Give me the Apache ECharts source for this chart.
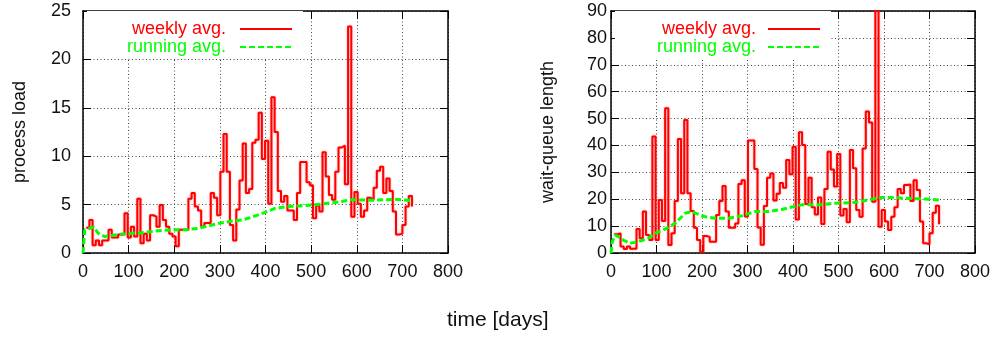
<!DOCTYPE html>
<html>
<head>
<meta charset="utf-8">
<title>process load and wait-queue length</title>
<script src="https://cdn.jsdelivr.net/npm/echarts@6/dist/echarts.min.js"></script>
<style>
  html, body { margin: 0; padding: 0; background: #fff; }
  #chart { width: 999px; height: 338px; }
</style>
</head>
<body>
<div id="chart"></div>
<script>
// Weekly averages: one value per week, first week starting on day 7.
const firstWeekDay = 7;
const weekLength = 7;

const weeklyLoad = [
  2.6, 3.4, 0.8, 1.3, 0.8, 1.3, 1.3, 2.4, 1.6, 1.6,
  1.9, 1.9, 4.1, 1.6, 2.7, 1.7, 5.6, 1.0, 2.0, 1.3,
  3.9, 3.75, 2.7, 4.96, 3.4, 2.7, 2.0, 1.7, 0.7, 2.4,
  2.4, 2.4, 5.6, 6.2, 4.8, 4.4, 2.7, 3.1, 3.1, 6.2,
  5.7, 3.9, 8.4, 12.3, 8.4, 2.9, 1.3, 4.5, 7.5, 11.3,
  6.2, 6.6, 11.4, 11.7, 14.5, 9.7, 11.6, 5.1, 16.1, 12.5,
  6.4, 5.3, 5.9, 4.4, 4.4, 3.4, 6.2, 9.4, 9.4, 7.3,
  7.0, 3.6, 4.9, 4.3, 10.4, 7.9, 6.0, 5.5, 8.4, 10.9,
  11.1, 7.1, 23.4, 3.75, 6.3, 5.1, 3.75, 4.4, 5.7, 5.5,
  6.75, 8.5, 8.9, 6.2, 7.7, 6.4, 4.3, 1.9, 2.0, 2.9,
  4.8, 5.9, 4.8
];

const weeklyQueue = [
  7.0, 7.3, 2.4, 1.5, 2.4, 1.6, 1.6, 8.9, 5.5, 15.4,
  6.7, 4.8, 43.3, 4.8, 19.7, 11.9, 53.8, 3.0, 7.3, 19.3,
  42.4, 22.2, 49.5, 22.2, 15.6, 9.4, 4.8, 0.5, 6.3, 6.0,
  4.2, 4.2, 14.1, 19.3, 24.9, 15.4, 9.4, 9.4, 11.0, 25.7,
  27.1, 13.6, 41.8, 41.8, 31.2, 9.5, 3.1, 17.5, 28.0, 29.6,
  19.5, 22.0, 26.0, 24.3, 34.6, 29.3, 39.5, 12.5, 44.9, 40.2,
  18.2, 28.0, 17.0, 14.3, 20.6, 10.8, 23.8, 37.7, 31.1, 24.7,
  36.8, 13.9, 16.4, 11.4, 38.3, 31.5, 16.0, 13.5, 38.9, 52.6,
  48.5, 19.1, 95.0, 9.8, 16.0, 11.7, 8.6, 13.5, 17.0, 23.8,
  22.2, 25.3, 25.5, 19.3, 27.1, 23.4, 11.7, 3.6, 3.2, 7.3,
  15.0, 17.6, 10.7
];

// Running averages, sampled at the listed days.
const runDaysLoad = [0, 4, 12, 23, 34, 48, 70, 92, 129, 165, 202, 224, 253, 275, 297, 326, 348, 370, 399, 421, 450, 487, 523, 560, 589, 633, 684, 724];
const runLoad     = [0, 2.4, 2.5, 2.7, 2.0, 1.7, 1.85, 2.0, 2.1, 2.3, 2.4, 2.4, 2.55, 2.8, 3.06, 3.3, 3.4, 3.7, 4.2, 4.6, 4.8, 4.9, 5.06, 5.27, 5.5, 5.45, 5.55, 5.4];

const runDaysQueue = [0, 3, 9, 16, 27, 42, 60, 82, 97, 119, 141, 163, 177, 196, 207, 229, 258, 287, 316, 345, 375, 393, 419, 456, 492, 529, 566, 588, 617, 653, 690, 724];
const runQueue     = [0, 4.2, 6.7, 6.1, 4.8, 3.6, 4.2, 5.5, 7.3, 8.9, 11.0, 14.8, 15.4, 14.1, 13.5, 12.9, 12.9, 13.8, 15.4, 15.4, 16.2, 16.9, 17.9, 17.9, 18.5, 18.7, 19.7, 20.6, 20.6, 20.3, 20.1, 19.7];

// Axis ranges and tick steps
const dayRange = [0, 800];
const dayStep = 100;
const loadRange = [0, 25];
const loadStep = 5;
const queueRange = [0, 90];
const queueStep = 10;

const seriesNames = ['weekly avg.', 'running avg.'];
const axisTitles = { x: 'time [days]', load: 'process load', queue: 'wait-queue length' };

const RED = '#ff0000';
const GREEN = '#00ff00';
const FONT = '"Liberation Sans", Arial, Helvetica, sans-serif';

const weekly = vals => vals.map((v, i) => [firstWeekDay + i * weekLength, v]);
const paired = (xs, ys) => xs.map((x, i) => [x, ys[i]]);

function xAxes(gridIndex) {
  const common = {
    gridIndex, type: 'value', min: dayRange[0], max: dayRange[1], interval: dayStep,
    axisLine: { show: true, onZero: false, lineStyle: { color: '#000', width: 1.5 } },
    axisTick: { show: true, inside: true, length: 8, lineStyle: { color: '#000', width: 1 } }
  };
  return [
    Object.assign({}, common, {
      position: 'bottom',
      axisLabel: { fontSize: 18, color: '#111', margin: 10, fontFamily: FONT },
      splitLine: { show: true, lineStyle: { color: '#444', width: 1, type: [1, 2.5] } }
    }),
    Object.assign({}, common, {
      position: 'top', axisLabel: { show: false }, splitLine: { show: false }
    })
  ];
}

function yAxes(gridIndex, range, step, title, labelMargin, nameGap) {
  const common = {
    gridIndex, type: 'value', min: range[0], max: range[1], interval: step,
    axisLine: { show: true, onZero: false, lineStyle: { color: '#000', width: 1.5 } },
    axisTick: { show: true, inside: true, length: 8, lineStyle: { color: '#000', width: 1 } }
  };
  return [
    Object.assign({}, common, {
      position: 'left',
      name: title, nameLocation: 'middle', nameGap, nameRotate: 90,
      nameTextStyle: { fontSize: 18, color: '#111', fontFamily: FONT },
      axisLabel: { fontSize: 18, color: '#111', margin: labelMargin, fontFamily: FONT },
      splitLine: { show: true, lineStyle: { color: '#444', width: 1, type: [1, 2.5] } }
    }),
    Object.assign({}, common, {
      position: 'right', axisLabel: { show: false }, splitLine: { show: false }
    })
  ];
}

function stepSeries(name, xi, yi, data) {
  return {
    name, type: 'line', xAxisIndex: xi, yAxisIndex: yi, step: 'end',
    symbol: 'none', clip: true, z: 3, data,
    lineStyle: { color: RED, width: 2, shadowColor: 'rgba(255,60,60,0.55)', shadowBlur: 2 },
    itemStyle: { color: RED }
  };
}

function runSeries(name, xi, yi, data) {
  return {
    name, type: 'line', xAxisIndex: xi, yAxisIndex: yi,
    symbol: 'none', clip: true, z: 4, data,
    lineStyle: { color: GREEN, width: 3, type: [6, 3] },
    itemStyle: { color: GREEN }
  };
}

function legendBox(rightPx, padding, textGap) {
  return {
    orient: 'vertical', align: 'right', right: rightPx, top: 11,
    itemWidth: 52, itemHeight: 14, itemGap: 0, padding,
    backgroundColor: '#fff', selectedMode: false,
    itemStyle: { opacity: 0 },
    textStyle: { fontSize: 18, lineHeight: 18, fontFamily: FONT, padding: [0, textGap, 0, 0] },
    data: [
      { name: seriesNames[0], textStyle: { color: RED } },
      { name: seriesNames[1], textStyle: { color: GREEN } }
    ]
  };
}

const chart = echarts.init(document.getElementById('chart'), null, { renderer: 'canvas' });
chart.setOption({
  animation: false,
  backgroundColor: '#fff',
  title: {
    text: axisTitles.x, left: 442, top: 305,
    textStyle: { fontSize: 21, fontWeight: 'normal', color: '#111', fontFamily: FONT }
  },
  legend: [
    legendBox(999 - 293 - 10, [9, 10, 3, 40], 9),
    legendBox(999 - 821 - 10, [9, 10, 3, 42], 7)
  ],
  grid: [
    { left: 83, top: 11, width: 365, height: 242 },
    { left: 611, top: 11, width: 364, height: 242 }
  ],
  xAxis: [].concat(xAxes(0), xAxes(1)),
  yAxis: [].concat(
    yAxes(0, loadRange, loadStep, axisTitles.load, 12, 54),
    yAxes(1, queueRange, queueStep, axisTitles.queue, 4, 54)
  ),
  series: [
    stepSeries(seriesNames[0], 0, 0, weekly(weeklyLoad)),
    runSeries(seriesNames[1], 0, 0, paired(runDaysLoad, runLoad)),
    stepSeries(seriesNames[0], 2, 2, weekly(weeklyQueue)),
    runSeries(seriesNames[1], 2, 2, paired(runDaysQueue, runQueue))
  ]
});
</script>
</body>
</html>
